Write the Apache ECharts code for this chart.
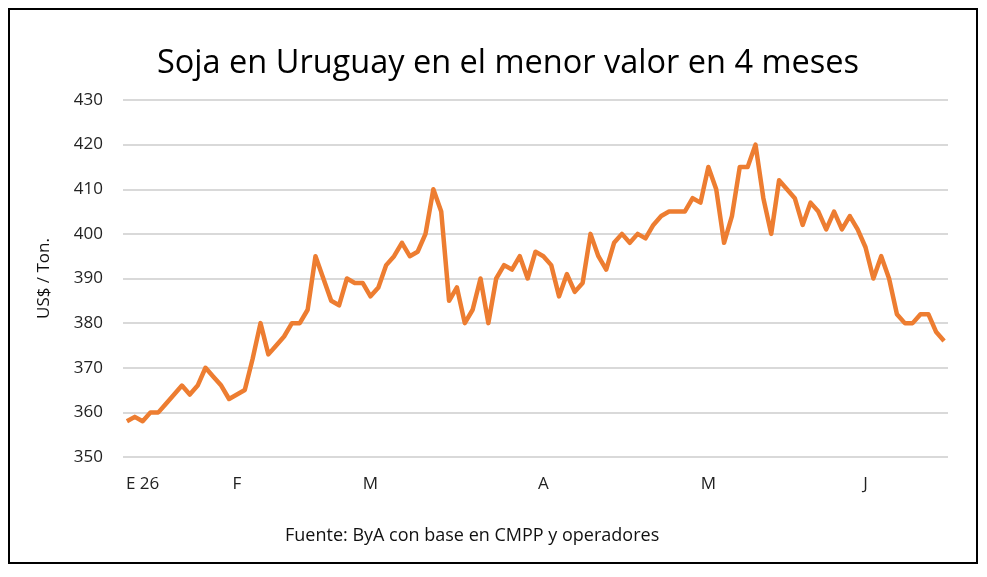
<!DOCTYPE html>
<html>
<head>
<meta charset="utf-8">
<script src="https://cdn.jsdelivr.net/npm/echarts@6/dist/echarts.min.js"></script>
<style>
  html, body { margin: 0; padding: 0; background: #fff; }
  #chart { width: 987px; height: 577px; }
</style>
</head>
<body>
<div id="chart"></div>
<script>
// precio soja Uruguay, US$/t, un valor por rueda
const prices = [
  358, 359, 358, 360, 360, 362, 364, 366, 364, 366,
  370, 368, 366, 363, 364, 365, 372, 380, 373, 375,
  377, 380, 380, 383, 395, 390, 385, 384, 390, 389,
  389, 386, 388, 393, 395, 398, 395, 396, 400, 410,
  405, 385, 388, 380, 383, 390, 380, 390, 393, 392,
  395, 390, 396, 395, 393, 386, 391, 387, 389, 400,
  395, 392, 398, 400, 398, 400, 399, 402, 404, 405,
  405, 405, 408, 407, 415, 410, 398, 404, 415, 415,
  420, 408, 400, 412, 410, 408, 402, 407, 405, 401,
  405, 401, 404, 401, 397, 390, 395, 390, 382, 380,
  380, 382, 382, 378, 376
]

// etiquetas de mes y la rueda donde aparecen
const monthLabels = ['E 26', 'F', 'M', 'A', 'M', 'J']
const monthIndex = [2, 14, 31, 53, 74, 94]

const categories = prices.map((p, i) => String(i))

const chart = echarts.init(document.getElementById('chart'))

const labelFont = '"Open Sans", "Noto Sans", sans-serif'

const option = {
  animation: false,
  backgroundColor: '#fff',
  title: {
    text: 'Soja en Uruguay en el menor valor en 4 meses',
    left: 152,
    top: 42,
    textStyle: {
      fontFamily: labelFont,
      fontSize: 32.5,
      fontWeight: 'normal',
      color: '#000'
    }
  },
  graphic: [
    {
      type: 'rect',
      shape: { x: 9, y: 9, width: 968, height: 554 },
      style: { fill: 'none', stroke: '#000', lineWidth: 2 }
    },
    {
      type: 'text',
      left: 285,
      top: 527,
      style: {
        text: 'Fuente: ByA con base en CMPP y operadores',
        fontFamily: labelFont,
        fontSize: 18,
        fill: '#111'
      }
    }
  ],
  grid: {
    left: 123,
    right: 39,
    top: 100,
    bottom: 120
  },
  xAxis: {
    type: 'category',
    data: categories,
    boundaryGap: true,
    axisLine: { show: false },
    axisTick: { show: false },
    axisLabel: {
      interval: (index) => monthIndex.includes(index),
      formatter: (value, index) => {
        const k = monthIndex.indexOf(index)
        return k >= 0 ? monthLabels[k] : ''
      },
      margin: 19,
      fontFamily: labelFont,
      fontSize: 17,
      color: '#222'
    }
  },
  yAxis: {
    type: 'value',
    min: 350,
    max: 430,
    interval: 10,
    name: 'US$ / Ton.',
    nameLocation: 'middle',
    nameGap: 70,
    nameRotate: 90,
    nameTextStyle: {
      fontFamily: labelFont,
      fontSize: 17,
      color: '#111'
    },
    axisLine: { show: false },
    axisTick: { show: false },
    axisLabel: {
      margin: 20,
      fontFamily: labelFont,
      fontSize: 17,
      color: '#222'
    },
    splitLine: {
      lineStyle: { color: '#d9d9d9', width: 2 }
    }
  },
  series: [
    {
      name: 'Soja',
      type: 'line',
      data: prices,
      symbol: 'none',
      smooth: false,
      lineStyle: { color: '#ED7D31', width: 4.5, join: 'round' },
      itemStyle: { color: '#ED7D31' }
    }
  ]
}

chart.setOption(option)
</script>
</body>
</html>
